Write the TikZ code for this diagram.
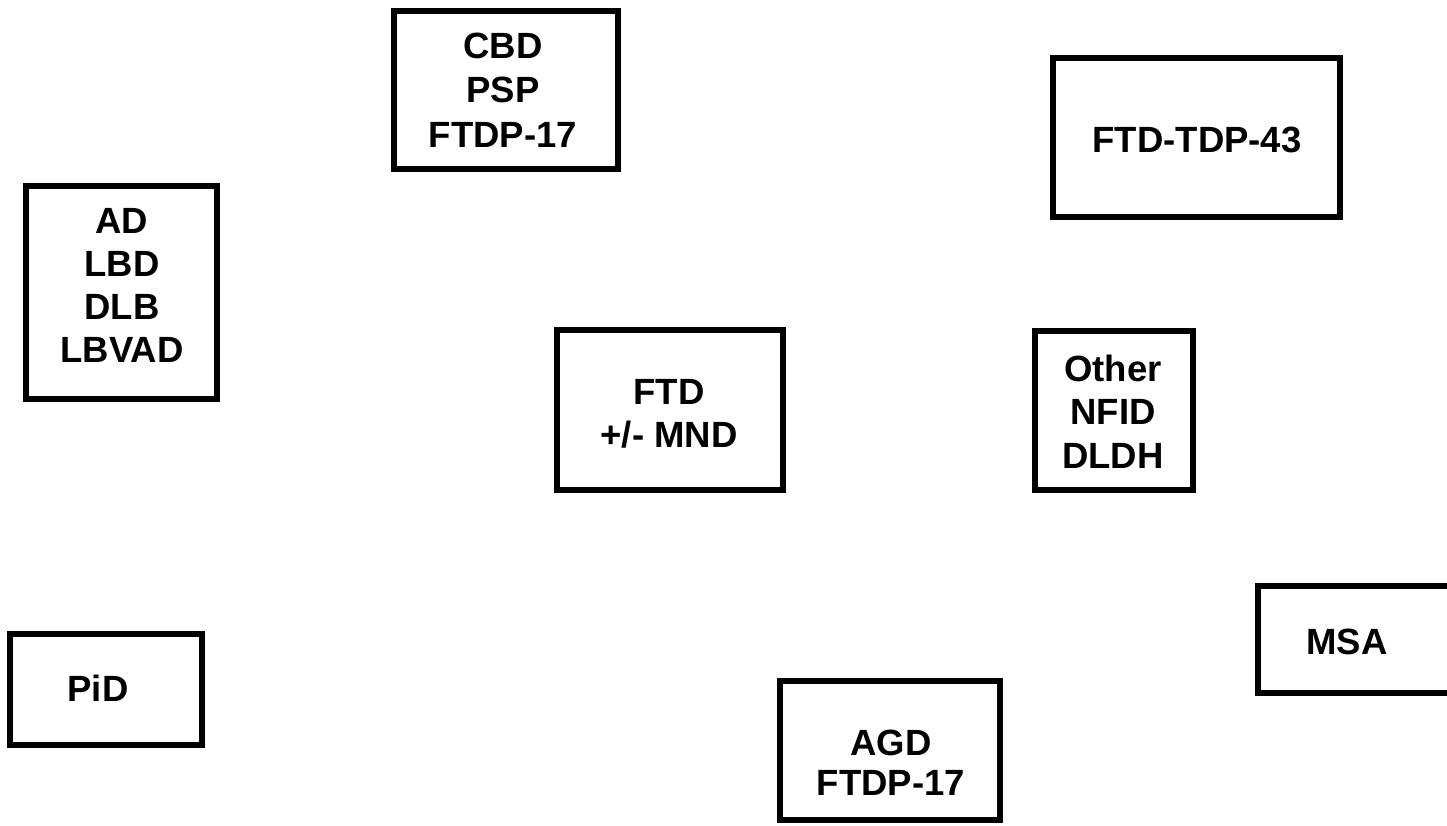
\documentclass[tikz,border=0pt]{standalone}
\usepackage{fontspec}
\setmainfont{Liberation Sans}
\begin{document}
\begin{tikzpicture}[x=1pt,y=-1pt,
  boxnode/.style={draw=black, line width=6pt, rectangle, inner sep=0pt, outer sep=0pt, fill=none},
  lbl/.style={inner sep=0pt, outer sep=0pt, align=center, font=\bfseries\fontsize{36.5}{#1}\selectfont},
  lbl/.default=43.5]
\useasboundingbox (0,0) rectangle (1447,825);
\fill[white] (0,0) rectangle (1447,825);
% boxes
\node[boxnode, minimum width=224pt, minimum height=158pt] (b1) at (506,90) {};
\node[boxnode, minimum width=287pt, minimum height=159pt] (b2) at (1196.5,137.5) {};
\node[boxnode, minimum width=191pt, minimum height=213pt] (b3) at (121.5,292.5) {};
\node[boxnode, minimum width=226pt, minimum height=160pt] (b4) at (670,410) {};
\node[boxnode, minimum width=158pt, minimum height=159pt] (b5) at (1114,410.5) {};
\node[boxnode, minimum width=204pt, minimum height=107pt] (b6) at (1360,639.5) {};
\node[boxnode, minimum width=192pt, minimum height=111pt] (b7) at (106,689.5) {};
\node[boxnode, minimum width=220pt, minimum height=139pt] (b8) at (890,750.5) {};
% labels
\node[lbl=44.5] (t1) at (503,90) {CBD\\PSP\\FTDP-17};
\node[lbl] (t2) at (1197,139.5) {FTD-TDP-43};
\node[lbl=43] (t3) at (122,285) {AD\\LBD\\DLB\\LBVAD};
\node[lbl=43] (t4) at (669,414) {FTD\\+/- MND};
\node[lbl] (t5) at (1113,411.5) {Other\\NFID\\DLDH};
\node[lbl] (t6) at (1347,641.5) {MSA};
\node[lbl] (t7) at (98,688) {PiD};
\node[lbl=40] (t8) at (891,762.5) {AGD\\FTDP-17};
\end{tikzpicture}
\end{document}
